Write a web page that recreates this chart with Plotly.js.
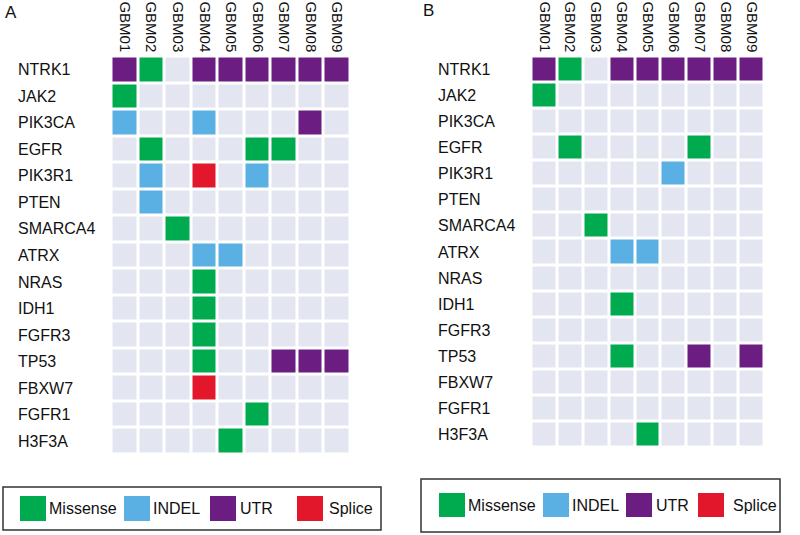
<!DOCTYPE html>
<html><head><meta charset="utf-8">
<script src="https://cdn.plot.ly/plotly-3.0.1.min.js"></script>
<style>html,body{margin:0;padding:0;background:#fff}#plot{width:800px;height:535px}</style>
</head><body><div id="plot"></div>
<script>
const samples = ['GBM01','GBM02','GBM03','GBM04','GBM05','GBM06','GBM07','GBM08','GBM09'];
const genes = ['NTRK1','JAK2','PIK3CA','EGFR','PIK3R1','PTEN','SMARCA4','ATRX','NRAS','IDH1','FGFR3','TP53','FBXW7','FGFR1','H3F3A'];
// 0 none, 1 Missense, 2 INDEL, 3 UTR, 4 Splice
const panelA = [
  [3,1,0,3,3,3,3,3,3],
  [1,0,0,0,0,0,0,0,0],
  [2,0,0,2,0,0,0,3,0],
  [0,1,0,0,0,1,1,0,0],
  [0,2,0,4,0,2,0,0,0],
  [0,2,0,0,0,0,0,0,0],
  [0,0,1,0,0,0,0,0,0],
  [0,0,0,2,2,0,0,0,0],
  [0,0,0,1,0,0,0,0,0],
  [0,0,0,1,0,0,0,0,0],
  [0,0,0,1,0,0,0,0,0],
  [0,0,0,1,0,0,3,3,3],
  [0,0,0,4,0,0,0,0,0],
  [0,0,0,0,0,1,0,0,0],
  [0,0,0,0,1,0,0,0,0]
];
const panelB = [
  [3,1,0,3,3,3,3,3,3],
  [1,0,0,0,0,0,0,0,0],
  [0,0,0,0,0,0,0,0,0],
  [0,1,0,0,0,0,1,0,0],
  [0,0,0,0,0,2,0,0,0],
  [0,0,0,0,0,0,0,0,0],
  [0,0,1,0,0,0,0,0,0],
  [0,0,0,2,2,0,0,0,0],
  [0,0,0,0,0,0,0,0,0],
  [0,0,0,1,0,0,0,0,0],
  [0,0,0,0,0,0,0,0,0],
  [0,0,0,1,0,0,3,0,3],
  [0,0,0,0,0,0,0,0,0],
  [0,0,0,0,0,0,0,0,0],
  [0,0,0,0,1,0,0,0,0]
];
const legendLabels = ['Missense','INDEL','UTR','Splice'];
const bgColor = '#e3e6f0';
const typeColors = ['#00aa4f','#5ab0e2','#6b1d82','#e3172c'];

const cs = [[0,bgColor],[0.2,bgColor],[0.2,typeColors[0]],[0.4,typeColors[0]],[0.4,typeColors[1]],[0.6,typeColors[1]],[0.6,typeColors[2]],[0.8,typeColors[2]],[0.8,typeColors[3]],[1,typeColors[3]]];

function hm(z, xa, ya){
  return {type:'heatmap', z:z, x:samples, y:genes, xaxis:xa, yaxis:ya,
    colorscale:cs, zmin:-0.5, zmax:4.5, showscale:false, xgap:3, ygap:3, hoverinfo:'skip'};
}
const data = [hm(panelA,'x','y'), hm(panelB,'x2','y2')];

const W=800,H=535;
const px = v=>v/W, py = v=>1-v/H;
const font = {family:'Liberation Sans, Arial, sans-serif', color:'#111'};

const axX = (dom, anchor)=>({domain:dom, anchor:anchor, side:'top', tickangle:90, showgrid:false, zeroline:false, showline:false, ticks:'', tickfont:{...font,size:15}, fixedrange:true, ticklabelstandoff:1});
const axY = (dom, anchor)=>({domain:dom, anchor:anchor, autorange:'reversed', showgrid:false, zeroline:false, showline:false, ticks:'', showticklabels:false, fixedrange:true});

const annotations = [];
const shapes = [];
genes.forEach((g,i)=>{
  annotations.push({xref:'paper', yref:'y', x:px(16), y:i, text:g, showarrow:false, xanchor:'left', yanchor:'middle', font:{...font,size:16}});
  annotations.push({xref:'paper', yref:'y2', x:px(436), y:i, text:g, showarrow:false, xanchor:'left', yanchor:'middle', font:{...font,size:16}});
});
annotations.push({xref:'paper',yref:'paper',x:px(3),y:py(12),text:'A',showarrow:false,xanchor:'left',yanchor:'middle',font:{...font,size:17}});
annotations.push({xref:'paper',yref:'paper',x:px(421),y:py(10),text:'B',showarrow:false,xanchor:'left',yanchor:'middle',font:{...font,size:17}});

function legendBox(box, sq, txt, top, bot){
  shapes.push({type:'rect', xref:'paper', yref:'paper', x0:px(box[0]), x1:px(box[1]), y0:py(box[3]), y1:py(box[2]), line:{color:'#333', width:1.5}, fillcolor:'rgba(0,0,0,0)'});
  legendLabels.forEach((l,i)=>{
    shapes.push({type:'rect', xref:'paper', yref:'paper', x0:px(sq[i]), x1:px(sq[i]+26), y0:py(bot), y1:py(top), line:{width:0}, fillcolor:typeColors[i]});
    annotations.push({xref:'paper', yref:'paper', x:px(txt[i]), y:py((top+bot)/2), text:l, showarrow:false, xanchor:'left', yanchor:'middle', font:{...font,size:16}});
  });
}
legendBox([3,381,487,530],[20,124,210,297],[47,151,238,327],496,521);
legendBox([421,780,479,532],[439,543,626,698],[466,570,654,731],493,517);

const layout = {
  width:W, height:H, margin:{l:0,r:0,t:0,b:0}, paper_bgcolor:'#fff', plot_bgcolor:'#fff',
  showlegend:false, font:font,
  xaxis: axX([px(111.5),px(350.5)],'y'),
  yaxis: axY([py(454.5),py(56.5)],'x'),
  xaxis2: axX([px(531.5),px(764.5)],'y2'),
  yaxis2: axY([py(447.5),py(56.5)],'x2'),
  annotations:annotations, shapes:shapes
};
Plotly.newPlot('plot', data, layout, {staticPlot:true});
</script></body></html>
